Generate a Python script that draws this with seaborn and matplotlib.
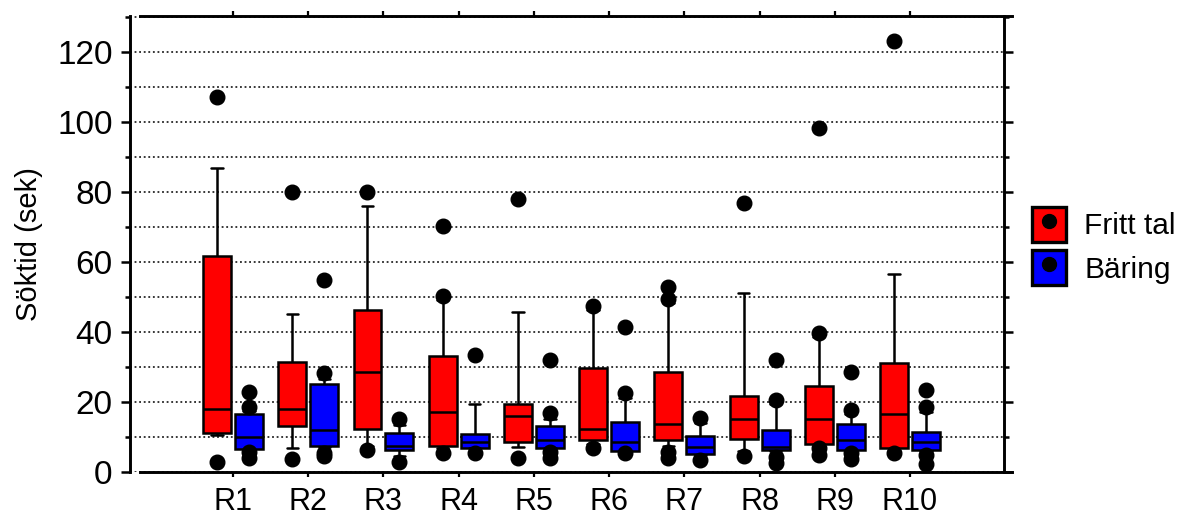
import pandas as pd
import matplotlib
matplotlib.use("Agg")
import matplotlib.pyplot as plt
from matplotlib.patches import Patch
from matplotlib.lines import Line2D
from matplotlib.ticker import MultipleLocator
import seaborn as sns

# Rundor och metoder
rundor = ["R1", "R2", "R3", "R4", "R5", "R6", "R7", "R8", "R9", "R10"]
metoder = ["Fritt tal", "Bäring"]

# Fritt tal : 10:e perc., Q1, median, Q3, 90:e perc., avvikare
fritt_p10 = [10.6, 6.9, 7.5, 6.8, 7.0, 8.0, 7.5, 6.0, 7.5, 6.0]
fritt_q1 = [11.1, 13.1, 12.2, 7.5, 8.7, 9.1, 9.1, 9.3, 8.0, 6.9]
fritt_med = [18.0, 17.9, 28.7, 17.2, 16.1, 12.2, 13.7, 15.0, 15.0, 16.6]
fritt_q3 = [61.7, 31.5, 46.3, 33.2, 19.4, 29.8, 28.7, 21.7, 24.6, 31.0]
fritt_p90 = [86.9, 45.1, 76.0, 49.0, 45.8, 46.3, 48.3, 51.0, 38.6, 56.6]
fritt_lag = [[2.9], [3.6], [6.3], [5.3], [4.1], [6.9], [5.8, 3.9], [4.7], [6.8, 4.9], [5.3]]
fritt_hog = [[107.1], [80.0], [80.0], [50.3, 70.3], [78.0], [47.4], [49.3, 52.8], [76.9], [39.6, 98.3], [123.1]]

# Bäring
baring_p10 = [6.3, 7.2, 4.5, 6.9, 6.9, 5.8, 4.9, 6.0, 6.0, 6.0]
baring_q1 = [6.5, 7.5, 6.3, 6.9, 6.9, 5.9, 5.1, 6.3, 6.3, 6.3]
baring_med = [9.9, 12.1, 7.4, 8.7, 9.1, 8.6, 7.0, 7.2, 9.1, 8.7]
baring_q3 = [16.7, 25.2, 11.0, 10.9, 13.1, 14.3, 10.3, 12.0, 13.7, 11.4]
baring_p90 = [17.5, 26.5, 13.5, 19.4, 15.0, 21.0, 14.0, 19.5, 16.5, 17.0]
baring_lag = [[5.8, 4.0], [5.5, 4.5], [2.9], [5.3], [5.8, 3.9], [5.3], [3.4], [4.4, 2.7], [5.3, 3.6], [4.9, 2.3]]
baring_hog = [[18.5, 22.9], [28.2, 54.9], [15.0], [33.4], [16.8, 32.0], [22.5, 41.3], [15.5], [20.6, 32.0], [17.7, 28.7], [18.5, 23.4]]


def prov(p10, q1, med, q3, p90, lag, hog):
    # 21 värden så att percentilerna hamnar exakt på index 2, 5, 10, 15, 18
    lag = sorted(lag) + [p10] * (2 - len(lag))
    hog = sorted(hog) + [p90] * (2 - len(hog))
    return lag + [p10] * 3 + [q1] + [med] * 5 + [q3] * 5 + [p90] * 3 + hog


rows = []
for i, r in enumerate(rundor):
    for metod, serie in [("Fritt tal", (fritt_p10, fritt_q1, fritt_med, fritt_q3, fritt_p90, fritt_lag, fritt_hog)),
                         ("Bäring", (baring_p10, baring_q1, baring_med, baring_q3, baring_p90, baring_lag, baring_hog))]:
        for v in prov(*[s[i] for s in serie]):
            rows.append({"runda": r, "metod": metod, "tid": v})
df = pd.DataFrame(rows)

sns.set_style("ticks")
plt.rcParams["font.family"] = ["Liberation Sans", "DejaVu Sans"]
plt.rcParams["text.color"] = "black"

farger = {"Fritt tal": "#ff0000", "Bäring": "#0000ff"}

fig = plt.figure(figsize=(11.79, 5.18), dpi=100)
ax = fig.add_axes([130 / 1179, 46 / 518, 874 / 1179, 456.5 / 518])

sns.boxplot(data=df, x="runda", y="tid", hue="metod", order=rundor, hue_order=metoder,
            palette=farger, saturation=1, whis=(10, 90), width=0.85, gap=0.125, linecolor="black",
            linewidth=1.8, fliersize=10.5, legend=False, ax=ax,
            flierprops=dict(marker="o", markerfacecolor="black", markeredgecolor="black"))

# smalare ändstreck på morrhåren
for ln in ax.lines:
    xd, yd = ln.get_xdata(), ln.get_ydata()
    if len(xd) == 2 and yd[0] == yd[1] and abs(xd[1] - xd[0]) < 0.25:
        mid = (xd[0] + xd[1]) / 2
        ln.set_xdata([mid - 0.075, mid + 0.075])

ax.set_xlim(-1.37, 10.25)
ax.set_ylim(0, 130.4)
ax.yaxis.set_major_locator(MultipleLocator(20))
ax.yaxis.set_minor_locator(MultipleLocator(10))
ax.set_axisbelow(True)
ax.grid(axis="y", which="both", color="black", linestyle=(0, (1.2, 1.8)), linewidth=1.1)

for s in ["left", "right", "top", "bottom"]:
    ax.spines[s].set_visible(True)
    ax.spines[s].set_linewidth(2.1)
    ax.spines[s].set_color("black")
ax.spines["bottom"].set_bounds(-1.24, 10.36)
ax.spines["top"].set_bounds(-1.24, 10.36)

ax.tick_params(axis="y", which="major", direction="out", length=6.5, width=1.8, left=True, right=True,
               labelsize=24, pad=6, colors="black")
ax.tick_params(axis="y", which="minor", direction="out", length=3.6, width=1.8, left=True, right=True,
               colors="black")
ax.tick_params(axis="x", which="major", direction="out", length=3.5, width=1.6, top=True, bottom=True,
               labelsize=22, pad=7, colors="black")

ax.set_xlabel("")
ax.set_ylabel("Söktid (sek)", fontsize=21, labelpad=10, color="black")

handles = [(Patch(facecolor=farger[m], edgecolor="black", linewidth=2.4),
            Line2D([], [], marker="o", color="black", markersize=10, linestyle=""))
           for m in metoder]
fig.legend(handles, metoder, loc="center left", bbox_to_anchor=(1032 / 1179, 1 - 246 / 518),
           frameon=False, borderpad=0, borderaxespad=0, handlelength=1.15, handleheight=1.39,
           handletextpad=0.6, labelspacing=0.3, fontsize=21.5, labelcolor="black")

fig.savefig("out.png", dpi=100)
